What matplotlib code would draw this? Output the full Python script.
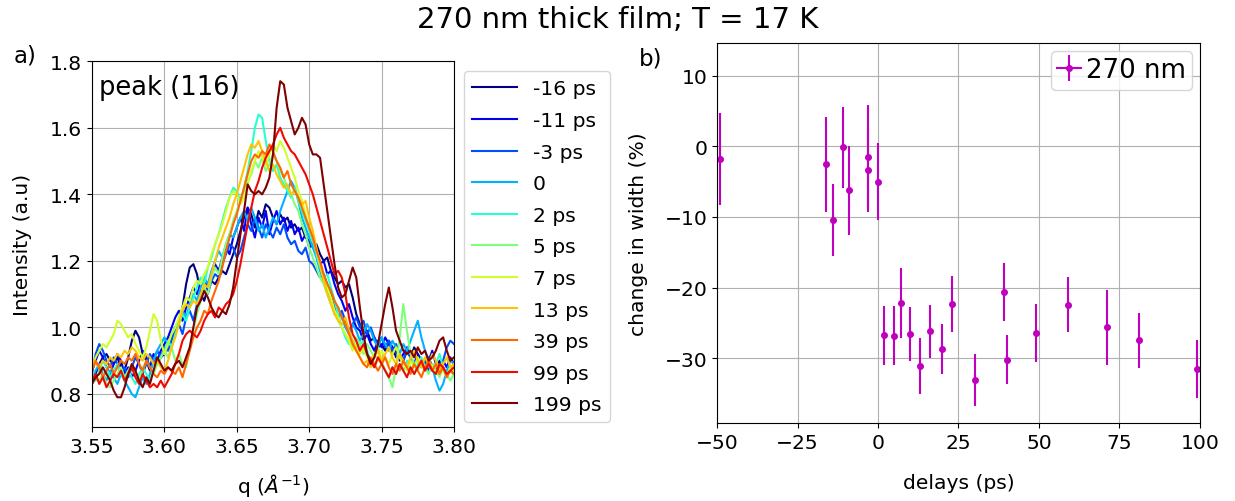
import numpy as np
import matplotlib.pyplot as plt

plt.rcParams['font.size'] = 14.6

# ---- panel a: peak (116) profiles, q grid 3.55 .. 3.80 ----
q = np.linspace(3.55, 3.80, 101)

I_m16 = [0.83, 0.86, 0.89, 0.91, 0.92, 0.90, 0.89, 0.91, 0.88, 0.87,
         0.91, 0.96, 0.99, 0.97, 0.92, 0.90, 0.87, 0.90, 0.89, 0.91,
         0.92, 0.95, 0.97, 1.00, 1.02, 1.06, 1.13, 1.18, 1.19, 1.16,
         1.10, 1.08, 1.12, 1.14, 1.13, 1.15, 1.17, 1.16, 1.19, 1.22,
         1.25, 1.29, 1.33, 1.36, 1.34, 1.30, 1.35, 1.33, 1.37, 1.36,
         1.33, 1.31, 1.34, 1.32, 1.33, 1.30, 1.31, 1.29, 1.30, 1.27,
         1.26, 1.24, 1.25, 1.22, 1.20, 1.21, 1.17, 1.15, 1.13, 1.14,
         1.12, 1.13, 1.09, 1.04, 1.01, 0.98, 0.99, 0.96, 0.97, 0.94,
         0.95, 0.93, 0.96, 0.94, 0.91, 0.92, 0.90, 0.93, 0.91, 0.94,
         0.92, 0.90, 0.89, 0.91, 0.88, 0.87, 0.90, 0.88, 0.86, 0.87,
         0.86]
I_m11 = [0.87, 0.90, 0.93, 0.91, 0.88, 0.86, 0.89, 0.92, 0.90, 0.86,
         0.88, 0.85, 0.87, 0.90, 0.93, 0.91, 0.88, 0.92, 0.90, 0.93,
         0.95, 0.97, 1.00, 1.03, 1.05, 1.02, 1.06, 1.09, 1.12, 1.10,
         1.13, 1.15, 1.11, 1.16, 1.19, 1.17, 1.21, 1.24, 1.22, 1.27,
         1.30, 1.33, 1.29, 1.36, 1.31, 1.27, 1.33, 1.30, 1.35, 1.28,
         1.32, 1.35, 1.31, 1.33, 1.29, 1.32, 1.28, 1.30, 1.26, 1.28,
         1.24, 1.25, 1.22, 1.19, 1.20, 1.16, 1.17, 1.13, 1.10, 1.08,
         1.05, 1.07, 1.03, 1.00, 0.99, 0.96, 0.98, 0.95, 0.93, 0.96,
         0.94, 0.97, 0.95, 0.92, 0.93, 0.90, 0.92, 0.94, 0.91, 0.89,
         0.92, 0.90, 0.88, 0.90, 0.93, 0.89, 0.87, 0.90, 0.88, 0.91,
         0.89]
I_m3 = [0.86, 0.92, 0.95, 0.93, 0.90, 0.88, 0.91, 0.89, 0.86, 0.88,
        0.85, 0.88, 0.91, 0.89, 0.86, 0.89, 0.92, 0.90, 0.93, 0.91,
        0.94, 0.93, 0.96, 0.99, 1.01, 0.98, 1.03, 1.05, 1.02, 1.07,
        1.09, 1.11, 1.10, 1.14, 1.16, 1.15, 1.19, 1.22, 1.25, 1.24,
        1.21, 1.23, 1.27, 1.31, 1.29, 1.33, 1.30, 1.27, 1.31, 1.29,
        1.27, 1.30, 1.28, 1.31, 1.27, 1.25, 1.26, 1.23, 1.22, 1.24,
        1.20, 1.19, 1.17, 1.15, 1.16, 1.13, 1.10, 1.06, 1.03, 1.05,
        1.02, 0.99, 1.01, 1.03, 1.00, 1.02, 0.98, 1.00, 0.97, 0.95,
        0.97, 0.94, 0.96, 0.93, 0.95, 0.92, 0.90, 0.93, 0.91, 0.89,
        0.91, 0.88, 0.90, 0.87, 0.89, 0.86, 0.88, 0.90, 0.94, 0.96,
        0.95]
I_0 = [0.84, 0.87, 0.89, 0.86, 0.84, 0.87, 0.85, 0.83, 0.86, 0.84,
       0.82, 0.80, 0.79, 0.82, 0.85, 0.83, 0.86, 0.90, 0.93, 0.95,
       0.97, 0.95, 0.98, 1.00, 1.02, 1.05, 1.03, 1.07, 1.10, 1.08,
       1.12, 1.15, 1.13, 1.17, 1.20, 1.23, 1.21, 1.25, 1.28, 1.27,
       1.30, 1.33, 1.35, 1.32, 1.36, 1.33, 1.29, 1.31, 1.27, 1.30,
       1.33, 1.31, 1.35, 1.38, 1.41, 1.44, 1.42, 1.38, 1.33, 1.30,
       1.27, 1.24, 1.21, 1.17, 1.14, 1.11, 1.08, 1.04, 1.06, 1.03,
       1.00, 0.98, 1.01, 0.99, 0.96, 0.98, 1.01, 0.99, 0.96, 0.94,
       0.97, 0.95, 0.93, 0.96, 0.94, 0.92, 0.95, 0.93, 0.96, 0.99,
       1.02, 0.97, 0.93, 0.90, 0.88, 0.84, 0.81, 0.83, 0.87, 0.90,
       0.89]
I_2 = [0.86, 0.84, 0.87, 0.90, 0.88, 0.85, 0.87, 0.89, 0.86, 0.84,
       0.87, 0.85, 0.83, 0.86, 0.88, 0.86, 0.84, 0.87, 0.89, 0.91,
       0.93, 0.96, 0.94, 0.98, 1.01, 1.04, 1.02, 1.06, 1.09, 1.12,
       1.15, 1.13, 1.18, 1.21, 1.25, 1.28, 1.32, 1.36, 1.39, 1.42,
       1.41, 1.38, 1.42, 1.47, 1.53, 1.60, 1.64, 1.63, 1.56, 1.50,
       1.47, 1.49, 1.45, 1.43, 1.41, 1.39, 1.42, 1.38, 1.35, 1.32,
       1.29, 1.26, 1.22, 1.18, 1.15, 1.16, 1.12, 1.08, 1.04, 1.00,
       0.97, 0.95, 0.96, 0.94, 0.95, 0.96, 0.93, 0.90, 0.88, 0.91,
       0.89, 0.87, 0.85, 0.88, 0.86, 0.89, 0.87, 0.90, 0.88, 0.86,
       0.89, 0.91, 0.88, 0.90, 0.87, 0.89, 0.92, 0.88, 0.86, 0.88,
       0.87]
I_5 = [0.83, 0.85, 0.84, 0.86, 0.83, 0.82, 0.84, 0.86, 0.88, 0.85,
       0.87, 0.89, 0.86, 0.84, 0.87, 0.90, 0.88, 0.86, 0.89, 0.91,
       0.93, 0.91, 0.94, 0.90, 0.92, 0.89, 0.88, 0.94, 0.99, 1.04,
       1.08, 1.12, 1.10, 1.15, 1.18, 1.16, 1.21, 1.25, 1.28, 1.32,
       1.35, 1.38, 1.41, 1.44, 1.46, 1.50, 1.48, 1.51, 1.47, 1.49,
       1.52, 1.50, 1.47, 1.45, 1.42, 1.40, 1.37, 1.35, 1.31, 1.28,
       1.24, 1.21, 1.18, 1.15, 1.13, 1.10, 1.07, 1.05, 1.02, 1.00,
       0.98, 0.96, 0.94, 0.97, 0.95, 0.92, 0.95, 0.93, 0.91, 0.94,
       0.90, 0.87, 0.85, 0.82, 0.88, 0.97, 1.07, 0.99, 0.92, 0.89,
       0.87, 0.90, 0.88, 0.86, 0.89, 0.87, 0.85, 0.88, 0.86, 0.84,
       0.86]
I_7 = [0.88, 0.91, 0.93, 0.95, 0.94, 0.96, 0.98, 1.02, 1.01, 0.99,
       0.97, 0.98, 0.95, 0.93, 0.91, 0.94, 0.99, 1.04, 1.02, 0.96,
       0.92, 0.95, 0.98, 1.00, 1.03, 1.06, 1.09, 1.08, 1.12, 1.14,
       1.13, 1.16, 1.18, 1.22, 1.25, 1.28, 1.31, 1.35, 1.39, 1.41,
       1.40, 1.37, 1.39, 1.43, 1.47, 1.50, 1.53, 1.51, 1.49, 1.52,
       1.55, 1.53, 1.56, 1.54, 1.51, 1.48, 1.45, 1.41, 1.38, 1.34,
       1.30, 1.27, 1.23, 1.19, 1.15, 1.12, 1.09, 1.05, 1.03, 1.00,
       0.98, 0.96, 0.93, 0.95, 0.92, 0.94, 0.91, 0.89, 0.92, 0.90,
       0.93, 0.91, 0.89, 0.92, 0.94, 0.91, 0.89, 0.87, 0.90, 0.88,
       0.91, 0.89, 0.87, 0.90, 0.88, 0.86, 0.89, 0.87, 0.85, 0.88,
       0.87]
I_13 = [0.90, 0.89, 0.88, 0.90, 0.89, 0.91, 0.90, 0.92, 0.91, 0.93,
        0.92, 0.94, 0.93, 0.91, 0.90, 0.92, 0.91, 0.89, 0.90, 0.88,
        0.87, 0.90, 0.94, 0.97, 1.01, 1.05, 1.07, 1.06, 1.08, 1.07,
        1.10, 1.13, 1.12, 1.16, 1.20, 1.24, 1.27, 1.30, 1.33, 1.37,
        1.40, 1.44, 1.48, 1.52, 1.55, 1.54, 1.56, 1.53, 1.50, 1.47,
        1.49, 1.46, 1.44, 1.42, 1.43, 1.40, 1.41, 1.39, 1.37, 1.38,
        1.33, 1.29, 1.24, 1.19, 1.14, 1.10, 1.07, 1.04, 1.02, 1.01,
        1.03, 0.99, 0.96, 0.93, 0.91, 0.89, 0.90, 0.88, 0.91, 0.93,
        0.90, 0.92, 0.94, 0.91, 0.89, 0.92, 0.90, 0.88, 0.91, 0.93,
        0.90, 0.88, 0.91, 0.89, 0.92, 0.90, 0.87, 0.89, 0.91, 0.88,
        0.89]
I_39 = [0.87, 0.90, 0.88, 0.85, 0.87, 0.89, 0.86, 0.88, 0.90, 0.89,
        0.91, 0.90, 0.92, 0.89, 0.87, 0.90, 0.88, 0.86, 0.85, 0.87,
        0.86, 0.88, 0.87, 0.86, 0.88, 0.85, 0.89, 0.93, 0.97, 1.00,
        1.02, 1.05, 1.04, 1.08, 1.11, 1.14, 1.18, 1.23, 1.27, 1.31,
        1.34, 1.38, 1.42, 1.46, 1.50, 1.52, 1.51, 1.53, 1.52, 1.55,
        1.53, 1.50, 1.48, 1.45, 1.47, 1.43, 1.41, 1.39, 1.36, 1.33,
        1.30, 1.27, 1.23, 1.20, 1.16, 1.13, 1.11, 1.08, 1.06, 1.03,
        1.01, 0.98, 0.95, 0.93, 0.91, 0.89, 0.88, 0.91, 0.89, 0.87,
        0.89, 0.91, 0.88, 0.86, 0.89, 0.87, 0.90, 0.88, 0.86, 0.89,
        0.87, 0.85, 0.88, 0.90, 0.87, 0.89, 0.86, 0.88, 0.85, 0.87,
        0.86]
I_99 = [0.84, 0.86, 0.83, 0.85, 0.82, 0.84, 0.86, 0.85, 0.87, 0.84,
        0.86, 0.88, 0.85, 0.83, 0.86, 0.84, 0.82, 0.83, 0.82, 0.84,
        0.82, 0.84, 0.86, 0.89, 0.92, 0.96, 0.98, 0.99, 0.98, 0.97,
        0.99, 1.02, 1.04, 1.05, 1.03, 1.06, 1.05, 1.07, 1.08, 1.10,
        1.14, 1.19, 1.25, 1.31, 1.36, 1.41, 1.44, 1.48, 1.51, 1.53,
        1.55, 1.58, 1.60, 1.57, 1.55, 1.53, 1.52, 1.50, 1.48, 1.46,
        1.43, 1.40, 1.36, 1.32, 1.28, 1.24, 1.20, 1.16, 1.17, 1.15,
        1.10, 1.03, 0.98, 0.96, 0.93, 0.95, 0.92, 0.90, 0.88, 0.91,
        0.89, 0.87, 0.85, 0.88, 0.86, 0.89, 0.87, 0.85, 0.88, 0.86,
        0.88, 0.90, 0.87, 0.89, 0.87, 0.86, 0.89, 0.88, 0.86, 0.87,
        0.88]
I_199 = [0.83, 0.85, 0.86, 0.88, 0.86, 0.84, 0.81, 0.79, 0.79, 0.82,
         0.86, 0.89, 0.87, 0.84, 0.82, 0.85, 0.83, 0.87, 0.91, 0.89,
         0.87, 0.88, 0.87, 0.89, 0.90, 0.88, 0.91, 0.94, 1.00, 1.06,
         1.08, 1.11, 1.09, 1.06, 1.04, 1.03, 1.05, 1.04, 1.07, 1.12,
         1.20, 1.28, 1.35, 1.43, 1.41, 1.40, 1.41, 1.40, 1.42, 1.45,
         1.52, 1.66, 1.74, 1.73, 1.66, 1.62, 1.58, 1.60, 1.63, 1.61,
         1.55, 1.52, 1.52, 1.51, 1.43, 1.35, 1.27, 1.19, 1.12, 1.09,
         1.10, 1.14, 1.18, 1.15, 1.06, 0.98, 0.92, 0.89, 0.91, 0.95,
         1.01, 1.07, 1.12, 1.06, 0.99, 0.96, 0.93, 0.92, 0.93, 0.91,
         0.94, 0.92, 0.93, 0.90, 0.91, 0.93, 0.96, 0.97, 0.93, 0.90,
         0.91]

profiles = [I_m16, I_m11, I_m3, I_0, I_2, I_5, I_7, I_13, I_39, I_99, I_199]
labels = ['-16 ps', '-11 ps', '-3 ps', '0', '2 ps', '5 ps', '7 ps',
          '13 ps', '39 ps', '99 ps', '199 ps']

# ---- panel b: change in width vs delay ----
delays = [-49, -16, -14, -11, -9, -3, -3, 0, 2, 5, 7, 10, 13, 16, 20, 23,
          30, 39, 40, 49, 59, 71, 81, 99]
width_change = [-1.8, -2.55, -10.5, -0.15, -6.2, -1.5, -3.4, -5.0, -26.75,
                -26.8, -22.2, -26.6, -31.1, -26.2, -28.7, -22.3, -33.1,
                -20.6, -30.2, -26.4, -22.4, -25.6, -27.45, -31.5]
width_err = [6.5, 6.7, 5.1, 5.7, 6.3, 7.3, 5.9, 5.5, 4.2, 4.2, 5.0, 3.8,
             3.9, 3.8, 3.6, 4.0, 3.7, 4.1, 3.5, 4.1, 3.9, 5.3, 3.9, 4.1]
delay_err = [0] * len(delays)

fig = plt.figure(figsize=(12.35, 5.02), dpi=100)
ax1 = fig.add_axes([0.0745, 0.147, 0.2931, 0.729])
ax2 = fig.add_axes([0.5806, 0.155, 0.391, 0.757])

colors = plt.cm.jet(np.linspace(0, 1, len(profiles)))
for prof, lab, c in zip(profiles, labels, colors):
    ax1.plot(q, prof, color=c, label=lab)
ax1.set_xlim(3.55, 3.80)
ax1.set_ylim(0.7, 1.8)
ax1.set_xticks([3.55, 3.60, 3.65, 3.70, 3.75, 3.80])
ax1.set_xlabel(r'q ($\AA^{-1}$)', labelpad=11)
ax1.set_ylabel('Intensity (a.u)', labelpad=13)
ax1.grid()
ax1.text(0.02, 0.965, 'peak (116)', transform=ax1.transAxes,
         fontsize=18.5, va='top', ha='left')
ax1.legend(loc='upper left', bbox_to_anchor=(1.0, 1.0), handlelength=2.2,
           labelspacing=0.62)

ax2.errorbar(delays, width_change, yerr=width_err, xerr=delay_err,
             fmt='.', color='m', ms=8, label='270 nm')
ax2.set_xlim(-50, 100)
ax2.set_ylim(-39.2, 14.6)
ax2.set_xticks([-50, -25, 0, 25, 50, 75, 100])
ax2.set_xlabel('delays (ps)', labelpad=15)
ax2.set_ylabel('change in width (%)', labelpad=12)
ax2.grid()
ax2.legend(loc='upper right', fontsize=18.7, handlelength=0.9,
           handletextpad=0.2, borderpad=0.25, borderaxespad=0.3)

fig.text(0.011, 0.875, 'a)', fontsize=16.5)
fig.text(0.517, 0.87, 'b)', fontsize=16.5)
fig.suptitle('270 nm thick film; T = 17 K', y=0.988, fontsize=21)

fig.savefig('out.png', dpi=100)
